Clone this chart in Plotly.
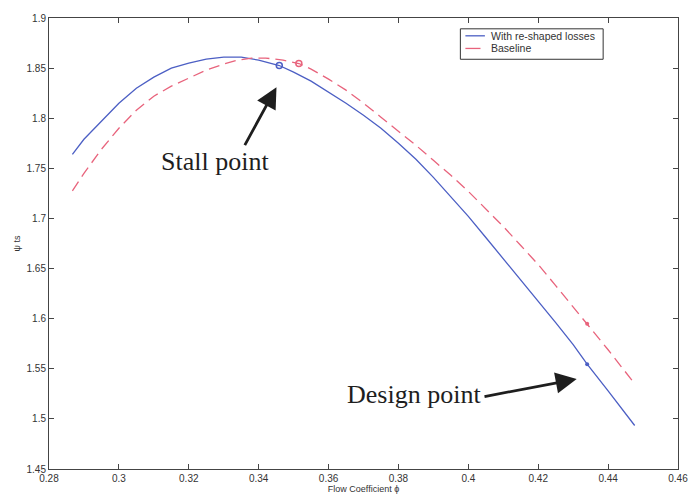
import plotly.graph_objects as go

# Total-to-static loading vs flow coefficient
phi_reshaped = [0.2867, 0.29, 0.295, 0.30, 0.305, 0.31, 0.315, 0.32, 0.325, 0.33,
                0.335, 0.34, 0.3459, 0.35, 0.355, 0.36, 0.365, 0.37, 0.375, 0.38,
                0.385, 0.39, 0.395, 0.40, 0.405, 0.41, 0.415, 0.42, 0.425, 0.43,
                0.434, 0.44, 0.4476]
psi_reshaped = [1.764, 1.779, 1.797, 1.815, 1.830, 1.841, 1.850, 1.855, 1.859, 1.861,
                1.861, 1.858, 1.8526, 1.846, 1.837, 1.826, 1.815, 1.803, 1.790, 1.775,
                1.759, 1.741, 1.722, 1.702, 1.681, 1.660, 1.639, 1.617, 1.596, 1.574,
                1.5546, 1.528, 1.4934]

phi_base = [0.2867, 0.29, 0.295, 0.30, 0.305, 0.31, 0.315, 0.32, 0.325, 0.33,
            0.334, 0.338, 0.342, 0.347, 0.3515, 0.355, 0.36, 0.365, 0.37, 0.375,
            0.38, 0.385, 0.39, 0.395, 0.40, 0.405, 0.41, 0.415, 0.42, 0.425,
            0.43, 0.434, 0.44, 0.4476]
psi_base = [1.7276, 1.745, 1.769, 1.790, 1.808, 1.822, 1.832, 1.840, 1.848, 1.854,
            1.858, 1.860, 1.860, 1.858, 1.8546, 1.849, 1.839, 1.828, 1.815, 1.801,
            1.787, 1.773, 1.758, 1.743, 1.727, 1.710, 1.692, 1.673, 1.654, 1.633,
            1.612, 1.595, 1.569, 1.535]

stall_reshaped = (0.3459, 1.8526)
stall_base = (0.3515, 1.8546)
design_reshaped = (0.434, 1.5546)
design_base = (0.434, 1.595)

series_names = ["With re-shaped losses", "Baseline"]

x_ticks = [0.28, 0.30, 0.32, 0.34, 0.36, 0.38, 0.40, 0.42, 0.44, 0.46]
x_labels = ["0.28", "0.3", "0.32", "0.34", "0.36", "0.38", "0.4", "0.42", "0.44", "0.46"]
y_ticks = [1.45, 1.5, 1.55, 1.6, 1.65, 1.7, 1.75, 1.8, 1.85, 1.9]
y_labels = ["1.45", "1.5", "1.55", "1.6", "1.65", "1.7", "1.75", "1.8", "1.85", "1.9"]

BLUE = "#4c5fc4"
RED = "#e8637c"
INK = "#333"
SANS = "Arial, Liberation Sans, sans-serif"

fig = go.Figure()
fig.add_trace(go.Scatter(x=phi_reshaped, y=psi_reshaped, mode="lines",
                         name=series_names[0], showlegend=False,
                         line=dict(color=BLUE, width=1.3)))
fig.add_trace(go.Scatter(x=phi_base, y=psi_base, mode="lines", name=series_names[1],
                         showlegend=False,
                         line=dict(color=RED, width=1.3, dash="11px,6px")))

# stall points (open circles) and design points (dots)
fig.add_trace(go.Scatter(x=[stall_reshaped[0]], y=[stall_reshaped[1]], mode="markers",
                         showlegend=False,
                         marker=dict(symbol="circle-open", size=6, color=BLUE,
                                     line=dict(width=1.5))))
fig.add_trace(go.Scatter(x=[stall_base[0]], y=[stall_base[1]], mode="markers",
                         showlegend=False,
                         marker=dict(symbol="circle-open", size=6, color=RED,
                                     line=dict(width=1.5))))
fig.add_trace(go.Scatter(x=[design_reshaped[0]], y=[design_reshaped[1]], mode="markers",
                         showlegend=False, marker=dict(size=4, color=BLUE)))
fig.add_trace(go.Scatter(x=[design_base[0]], y=[design_base[1]], mode="markers",
                         showlegend=False, marker=dict(size=4, color=RED)))

label_font = dict(family="Liberation Serif, Times New Roman, serif", size=26, color="#1e1e1e")
fig.add_annotation(x=0.3276, y=1.757, text="Stall point", showarrow=False, font=label_font)
fig.add_annotation(x=0.3845, y=1.524, text="Design point", showarrow=False, font=label_font)
# arrows
fig.add_annotation(x=0.3451, y=1.831, ax=0.3358, ay=1.7717, axref="x", ayref="y",
                   text="", showarrow=True, arrowhead=2, arrowsize=1.5, arrowwidth=2.8,
                   arrowcolor="#1e1e1e")
fig.add_annotation(x=0.431, y=1.5398, ax=0.4042, ay=1.522, axref="x", ayref="y",
                   text="", showarrow=True, arrowhead=2, arrowsize=1.5, arrowwidth=2.8,
                   arrowcolor="#1e1e1e")

# boxed legend in the upper right
fig.add_shape(type="rect", xref="paper", yref="paper", x0=0.654, x1=0.881,
              y0=0.9085, y1=0.976, line=dict(color=INK, width=1), fillcolor="white")
fig.add_shape(type="line", xref="paper", yref="paper", x0=0.662, x1=0.693,
              y0=0.9605, y1=0.9605, line=dict(color=BLUE, width=1.3))
fig.add_shape(type="line", xref="paper", yref="paper", x0=0.662, x1=0.686,
              y0=0.9325, y1=0.9325, line=dict(color=RED, width=1.3))
for name, yy in zip(series_names, [0.9605, 0.9325]):
    fig.add_annotation(xref="paper", yref="paper", x=0.700, y=yy, text=name,
                       xanchor="left", yanchor="middle", showarrow=False,
                       font=dict(family=SANS, size=10.5, color=INK))

axis_common = dict(showline=True, linecolor="#444", linewidth=1, mirror="ticks",
                   ticks="inside", ticklen=5, tickcolor="#444", showgrid=False,
                   zeroline=False, tickfont=dict(family=SANS, size=10, color=INK))

fig.update_xaxes(range=[0.28, 0.46], tickvals=x_ticks, ticktext=x_labels,
                 title=dict(text="Flow Coefficient ϕ", standoff=2,
                            font=dict(family=SANS, size=9, color=INK)),
                 **axis_common)
fig.update_yaxes(range=[1.45, 1.9], tickvals=y_ticks, ticktext=y_labels,
                 title=dict(text="ψ ts", standoff=4,
                            font=dict(family=SANS, size=9, color=INK)),
                 **axis_common)

fig.update_layout(
    width=700, height=504,
    margin=dict(l=49, r=12, t=17, b=31),
    paper_bgcolor="white", plot_bgcolor="white",
    showlegend=False,
)

fig.write_html("out.html")
